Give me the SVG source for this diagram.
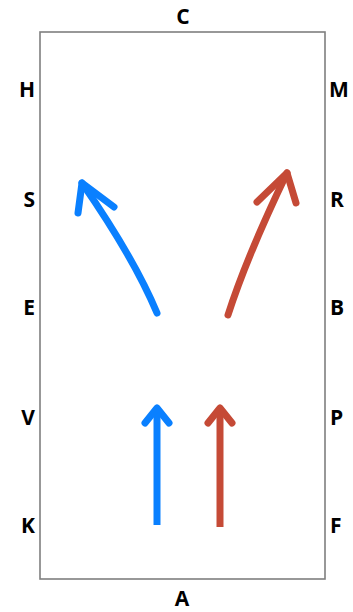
<svg xmlns="http://www.w3.org/2000/svg" width="353" height="612" viewBox="0 0 353 612">
  <style>
    .lbl { font-family: "Open Sans", "Liberation Sans", sans-serif; font-weight: bold; font-size: 21px; fill: #000; }
    .l { text-anchor: end; }
    .r { text-anchor: start; }
    .m { text-anchor: middle; }
    .box { fill: #fff; stroke: #7f7f7f; stroke-width: 1.6; }
    .arr { fill: none; stroke-width: 7; stroke-linecap: round; stroke-linejoin: round; }
    .blue { stroke: #0A80FF; }
    .red { stroke: #C54A36; }
  </style>
  <rect width="353" height="612" fill="#fff"/>
  <g id="field">
    <rect class="box" x="40" y="32" width="285" height="547"/>
  </g>
  <g id="labels">
    <text class="lbl m" x="183" y="24">C</text>
    <text class="lbl m" x="182" y="606">A</text>
    <text class="lbl l" x="35" y="97">H</text>
    <text class="lbl l" x="35" y="207">S</text>
    <text class="lbl l" x="35" y="315">E</text>
    <text class="lbl l" x="35" y="425">V</text>
    <text class="lbl l" x="35" y="533">K</text>
    <text class="lbl r" x="329" y="97">M</text>
    <text class="lbl r" x="330" y="207">R</text>
    <text class="lbl r" x="330" y="315">B</text>
    <text class="lbl r" x="330" y="425">P</text>
    <text class="lbl r" x="330" y="533">F</text>
  </g>
  <g id="connectors">
    <path class="arr blue" d="M157,313 Q134,258 82,183"/>
    <polyline class="arr blue" points="78,213 82,183 114,207"/>
    <path class="arr red" d="M228,315 Q247,256 287,173"/>
    <polyline class="arr red" points="257,202 287,173 296,203"/>
    <path class="arr blue" d="M157,525 V408" style="stroke-linecap:butt"/>
    <polyline class="arr blue" points="145,423 157,408 169,423"/>
    <path class="arr red" d="M220,527 V408" style="stroke-linecap:butt"/>
    <polyline class="arr red" points="208,423 220,408 232,423"/>
  </g>
</svg>
